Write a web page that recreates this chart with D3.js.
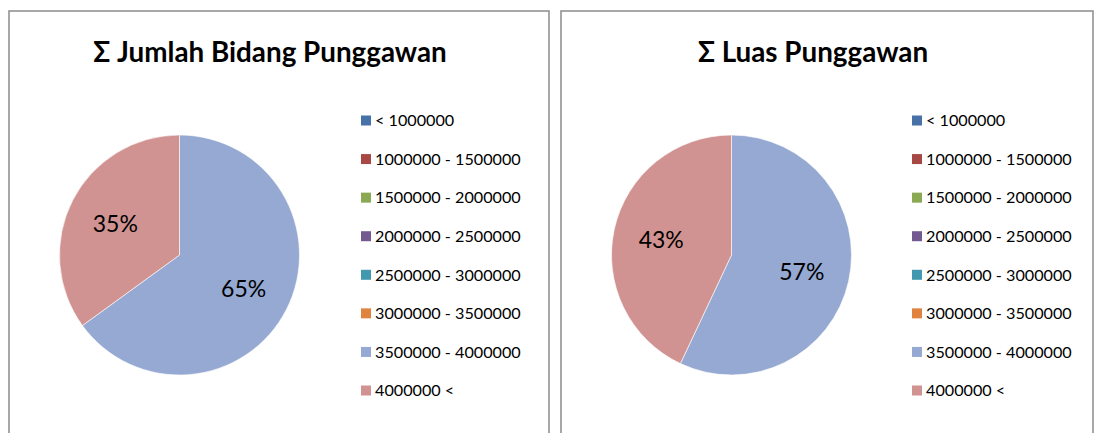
<!DOCTYPE html>
<html>
<head>
<meta charset="utf-8">
<script src="https://cdn.jsdelivr.net/npm/d3@7/dist/d3.min.js"></script>
<style>
  body { margin: 0; background: #fff; }
  svg { display: block; font-family: Lato, "Open Sans", sans-serif; }
</style>
</head>
<body>
<div id="chart"></div>
<script>
// legend categories (luas ranges)
const categories = ["< 1000000", "1000000 - 1500000", "1500000 - 2000000", "2000000 - 2500000",
    "2500000 - 3000000", "3000000 - 3500000", "3500000 - 4000000", "4000000 <"];
const colors = ["#4672A8", "#A84845", "#8BA853", "#72598F", "#4198AF", "#E0833E", "#95A9D2", "#D19392"];

// values per category, read as percentages
const jumlahBidang = [0, 0, 0, 0, 0, 0, 65, 35];
const luasPunggawan = [0, 0, 0, 0, 0, 0, 57, 43];

const titles = ["\u03A3 Jumlah Bidang Punggawan", "\u03A3 Luas Punggawan"];

const width = 1094, height = 433;

const svg = d3.select('#chart').append('svg')
    .attr('width', width)
    .attr('height', height);

const panels = [
    { x0: 9, x1: 549, title: titles[0], values: jumlahBidang, cx: 179.5, titleX: 270, legendX: 361 },
    { x0: 561, x1: 1093, title: titles[1], values: luasPunggawan, cx: 731.5, titleX: 813, legendX: 912 }
];

const radius = 120;
const cy = 255;

const pie = d3.pie().sort(null).value(d => d);
const arc = d3.arc().innerRadius(0).outerRadius(radius);
const labelArc = d3.arc().innerRadius(radius * 0.6).outerRadius(radius * 0.6);

const legendY = d3.scalePoint()
    .domain(categories)
    .range([120.5, 390.5]);

panels.forEach(p => {
    // frame, open at the bottom
    svg.append('path')
        .attr('d', `M${p.x0},${height} L${p.x0},11 L${p.x1},11 L${p.x1},${height}`)
        .attr('fill', 'none')
        .attr('stroke', '#8c8c8c')
        .attr('stroke-width', 1.5);

    svg.append('text')
        .attr('x', p.titleX)
        .attr('y', 62)
        .attr('text-anchor', 'middle')
        .style('font-size', '27.8px')
        .style('font-weight', 'bold')
        .text(p.title);

    const total = d3.sum(p.values);
    const arcs = pie(p.values);

    const g = svg.append('g')
        .attr('transform', `translate(${p.cx},${cy})`);

    g.selectAll('path')
        .data(arcs.filter(d => d.value > 0))
        .join('path')
        .attr('d', arc)
        .attr('fill', d => colors[d.index])
        .attr('stroke', '#fff')
        .attr('stroke-width', 0.6);

    g.selectAll('text')
        .data(arcs.filter(d => d.value > 0))
        .join('text')
        .attr('transform', d => `translate(${labelArc.centroid(d)})`)
        .attr('text-anchor', 'middle')
        .attr('dy', '0.4em')
        .style('font-size', '23px')
        .text(d => Math.round(d.value / total * 100) + '%');

    const legend = svg.append('g');
    const items = legend.selectAll('g')
        .data(categories)
        .join('g')
        .attr('transform', d => `translate(${p.legendX},${legendY(d)})`);

    items.append('rect')
        .attr('x', 0)
        .attr('y', -5)
        .attr('width', 10)
        .attr('height', 10)
        .attr('fill', (d, i) => colors[i]);

    items.append('text')
        .attr('x', 14)
        .attr('dy', '0.36em')
        .style('font-size', '16.2px')
        .text(d => d);
});
</script>
</body>
</html>
